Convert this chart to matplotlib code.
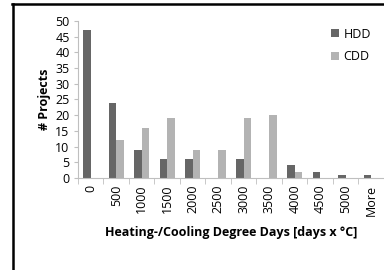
import matplotlib.pyplot as plt
import numpy as np
from matplotlib.lines import Line2D

# Data
categories = ['0', '500', '1000', '1500', '2000', '2500', '3000', '3500',
              '4000', '4500', '5000', 'More']
hdd = [47, 24, 9, 6, 6, 0, 6, 0, 4, 2, 1, 1]
cdd = [0, 12, 16, 19, 9, 9, 19, 20, 2, 0, 0, 0]

plt.rcParams['font.family'] = ['Open Sans', 'DejaVu Sans']
fs = 9

fig = plt.figure(figsize=(3.84, 2.70), dpi=100)
ax = fig.add_axes([0.203, 0.341, 0.797, 0.581])

x = np.arange(len(categories))
w = 0.3
ax.bar(x - w / 2, hdd, width=w, color='#666666', label='HDD')
ax.bar(x + w / 2, cdd, width=w, color='#b3b3b3', label='CDD')

ax.set_xlim(-0.5, len(categories) - 0.5)
ax.set_ylim(0, 50)
ax.set_yticks(range(0, 51, 5))
ax.set_xticks(x)
ax.set_xticklabels(categories, rotation=90, fontsize=fs)
ax.set_xticks(np.arange(-0.5, len(categories), 1), minor=True)
ax.tick_params(axis='x', which='major', length=0, pad=5)
ax.tick_params(axis='x', which='minor', length=4, color='#bfbfbf')
ax.tick_params(axis='y', length=3, color='#bfbfbf', labelsize=fs, pad=3)

for s in ['top', 'right']:
    ax.spines[s].set_visible(False)
for s in ['left', 'bottom']:
    ax.spines[s].set_color('#bfbfbf')
    ax.spines[s].set_linewidth(0.8)

ax.set_ylabel('# Projects', fontweight='bold', fontsize=fs, labelpad=3)
ax.set_xlabel('Heating-/Cooling Degree Days [days x \u00b0C]',
              fontweight='bold', fontsize=fs, labelpad=7)

ax.legend(loc='upper right', bbox_to_anchor=(0.995, 1.03), frameon=False,
          fontsize=fs, handlelength=0.6, handleheight=0.6,
          handletextpad=0.4, labelspacing=0.75)

# Frame lines (left and top edges of the original bordered image)
fig.add_artist(Line2D([12 / 384, 1.0], [1 - 4 / 270, 1 - 4 / 270],
                      transform=fig.transFigure, color='black', lw=1.8))
fig.add_artist(Line2D([13 / 384, 13 / 384], [0, 1 - 4 / 270],
                      transform=fig.transFigure, color='black', lw=1.8))

fig.savefig('out.png', dpi=100)
